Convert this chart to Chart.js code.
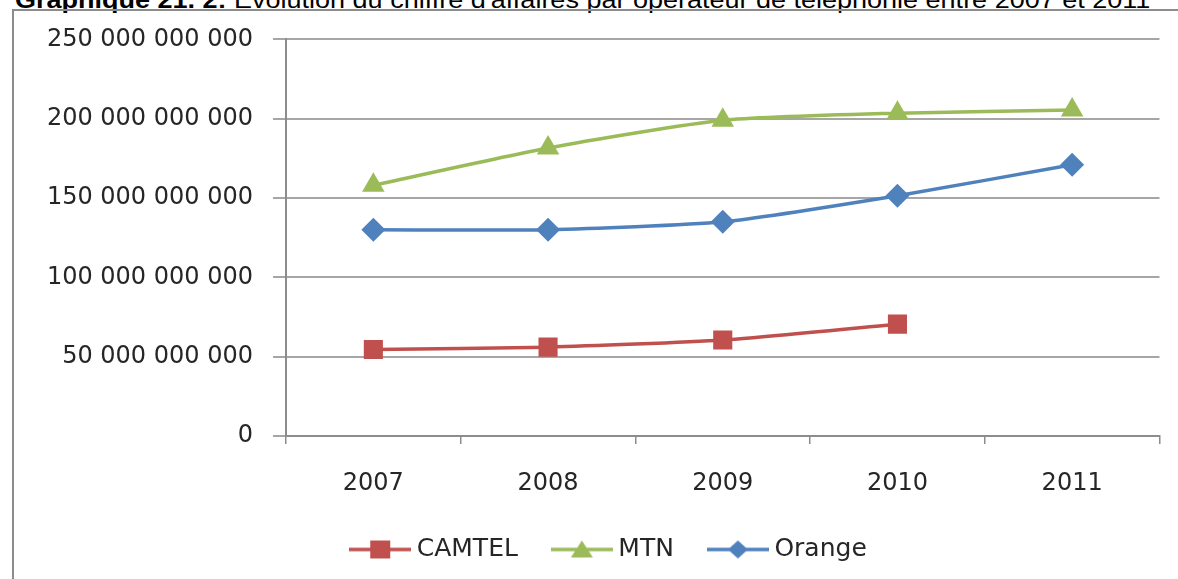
<!DOCTYPE html>
<html>
<head>
<meta charset="utf-8">
<script src="https://cdn.jsdelivr.net/npm/chart.js@4/dist/chart.umd.min.js"></script>
<style>
  html, body { margin: 0; padding: 0; background: #fff; overflow: hidden; width: 1178px; height: 579px; }
  #titre {
    position: absolute; left: 15px; top: -14px; white-space: nowrap;
    font-family: "Liberation Sans", Arial, sans-serif; font-size: 24px; color: #000;
    transform-origin: left top;
  }
  #cadre {
    position: absolute; left: 12px; top: 9px; width: 1300px; height: 700px;
    border-left: 2px solid #8c8c8c; border-top: 2px solid #8c8c8c;
  }
  #boite { position: absolute; left: 13px; top: 5px; width: 1160px; height: 567px; }
</style>
</head>
<body>
<div id="titre"><b>Graphique 21. 2:</b> Evolution du chiffre d'affaires par opérateur de téléphonie entre 2007 et 2011</div>
<div id="cadre"></div>
<div id="boite"><canvas id="graphique"></canvas></div>
<script>
// Données (FCFA)
const annees = ["2007", "2008", "2009", "2010", "2011"];
const camtel = [54.5e9, 56e9, 60.5e9, 70.5e9, null];
const mtn = [158e9, 181.5e9, 199e9, 203.5e9, 205.5e9];
const orange = [130e9, 130e9, 135e9, 151.5e9, 171e9];
const graduations = [0, 50e9, 100e9, 150e9, 200e9, 250e9];

const rouge = "#C0504D";
const vert = "#9BBB59";
const bleu = "#4F81BD";

// titre : on l'étire pour couvrir la largeur du cadre
const titre = document.getElementById("titre");
titre.style.transform = "scaleX(" + (1135 / titre.offsetWidth) + ")";

function formatNombre(v) {
    return Math.round(v).toString().replace(/\B(?=(\d{3})+(?!\d))/g, " ");
}

// icône de légende : trait + marqueur, comme dans Excel
function iconeLegende(couleur, forme) {
    const c = document.createElement("canvas");
    c.width = 62;
    c.height = 24;
    const g = c.getContext("2d");
    g.strokeStyle = couleur;
    g.fillStyle = couleur;
    g.lineWidth = 3.5;
    g.beginPath();
    g.moveTo(0, 12);
    g.lineTo(62, 12);
    g.stroke();
    g.beginPath();
    if (forme === "carre") {
        g.rect(21, 3, 20, 18);
    } else if (forme === "triangle") {
        g.moveTo(31, 3);
        g.lineTo(42, 20);
        g.lineTo(20, 20);
        g.closePath();
    } else {
        g.moveTo(31, 3);
        g.lineTo(41, 12);
        g.lineTo(31, 21);
        g.lineTo(21, 12);
        g.closePath();
    }
    g.fill();
    return c;
}
const icones = [iconeLegende(rouge, "carre"), iconeLegende(vert, "triangle"), iconeLegende(bleu, "losange")];

// la légende d'Excel est un peu décalée vers la droite
const decalageLegende = {
    id: "decalageLegende",
    afterLayout(chart) {
        if (chart.legend) chart.legend.left += 10;
    }
};

const ctx = document.getElementById("graphique").getContext("2d");
new Chart(ctx, {
    type: "line",
    data: {
        labels: annees,
        datasets: [{
            label: "CAMTEL",
            data: camtel,
            borderColor: rouge,
            backgroundColor: rouge,
            pointStyle: "rect",
            pointRadius: 13.5,
            pointBorderWidth: 0
        }, {
            label: "MTN",
            data: mtn,
            borderColor: vert,
            backgroundColor: vert,
            pointStyle: "triangle",
            pointRadius: 13,
            pointBorderWidth: 0
        }, {
            label: "Orange",
            data: orange,
            borderColor: bleu,
            backgroundColor: bleu,
            pointStyle: "rectRot",
            pointRadius: 12,
            pointBorderWidth: 0
        }]
    },
    options: {
        responsive: true,
        maintainAspectRatio: false,
        animation: false,
        layout: { padding: { left: 32, right: 5, top: 22, bottom: 0 } },
        elements: {
            line: { borderWidth: 3.5, tension: 0.2, fill: false }
        },
        scales: {
            x: {
                offset: true,
                grid: { offset: true, drawOnChartArea: false, drawTicks: true, tickLength: 8, color: "#8c8c8c", lineWidth: 1.5 },
                border: { display: true, color: "#8c8c8c", width: 2 },
                ticks: { padding: 25, color: "#262626", font: { family: "DejaVu Sans", size: 24 } },
                afterFit: function(scale) { scale.height = 61; }
            },
            y: {
                min: 0,
                max: 250e9,
                afterBuildTicks: function(scale) {
                    scale.ticks = graduations.map(v => ({ value: v }));
                },
                grid: { color: "#a6a6a6", lineWidth: 2, tickLength: 13 },
                border: { display: true, color: "#8c8c8c", width: 2 },
                ticks: {
                    padding: 20,
                    color: "#262626",
                    font: { family: "DejaVu Sans", size: 24 },
                    callback: function(v) { return formatNombre(v); }
                },
                afterFit: function(scale) { scale.width = 241; }
            }
        },
        plugins: {
            tooltip: { enabled: false },
            legend: {
                position: "bottom",
                labels: {
                    usePointStyle: true,
                    pointStyleWidth: 48,
                    padding: 40,
                    color: "#262626",
                    font: { family: "DejaVu Sans", size: 25 },
                    generateLabels: function(chart) {
                        const items = Chart.defaults.plugins.legend.labels.generateLabels(chart);
                        items.forEach((it, i) => { it.pointStyle = icones[i]; });
                        return items;
                    }
                }
            }
        }
    },
    plugins: [decalageLegende]
});
</script>
</body>
</html>
